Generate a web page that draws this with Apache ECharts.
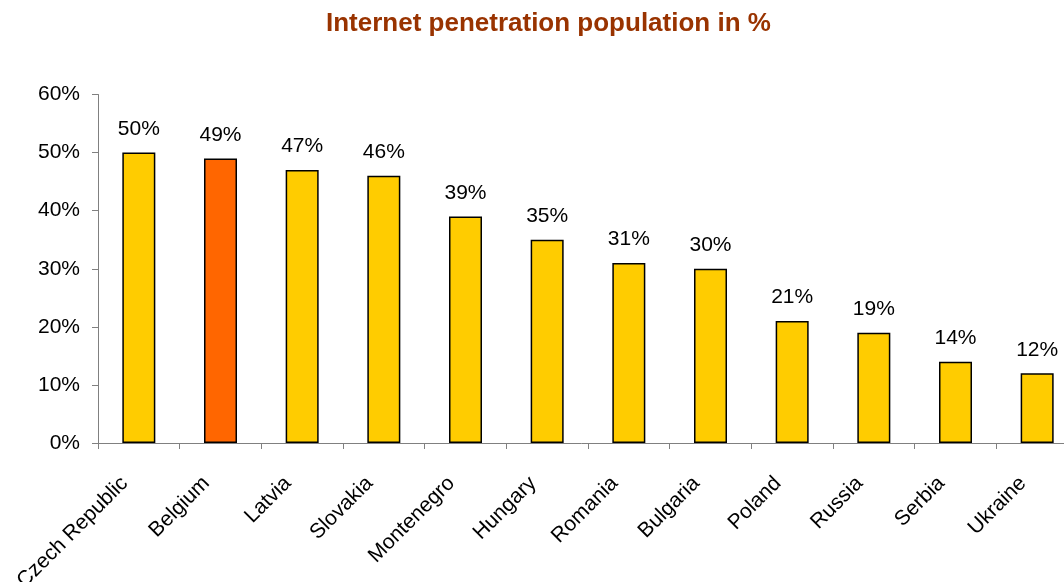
<!DOCTYPE html>
<html>
<head>
<meta charset="utf-8">
<script src="https://cdn.jsdelivr.net/npm/echarts@6/dist/echarts.min.js"></script>
<style>
  html, body { margin: 0; padding: 0; background: #fff; }
  #chart { width: 1064px; height: 582px; }
</style>
</head>
<body>
<div id="chart"></div>
<script>
// 数据
var countries = ["Czech Republic", "Belgium", "Latvia", "Slovakia", "Montenegro", "Hungary",
  "Romania", "Bulgaria", "Poland", "Russia", "Serbia", "Ukraine"];
var penetration = [50, 49, 47, 46, 39, 35, 31, 30, 21, 19, 14, 12];
var highlight = "Belgium";
var yTicks = [0, 10, 20, 30, 40, 50, 60];

var myChart = echarts.init(document.getElementById("chart"));

var option = {
  animation: false,
  textStyle: { fontFamily: "Liberation Sans, Arial, sans-serif" },
  title: {
    text: "Internet penetration population in %",
    left: 321,
    top: 6,
    textStyle: { color: "#993300", fontSize: 26, fontWeight: "bold", fontFamily: "Liberation Sans, Arial, sans-serif" }
  },
  grid: {
    left: 98,
    top: 94.5,
    bottom: 139,
    width: 980,
    outerBoundsMode: "none"
  },
  xAxis: {
    type: "category",
    data: countries,
    axisLine: { lineStyle: { color: "#808080", width: 1 } },
    axisTick: { show: true, length: 6, lineStyle: { color: "#808080" } },
    axisLabel: {
      rotate: 45,
      interval: 0,
      margin: 23,
      padding: [0, 20, 0, 0],
      color: "#000",
      fontSize: 21
    }
  },
  yAxis: {
    type: "value",
    min: yTicks[0],
    max: yTicks[yTicks.length - 1],
    interval: 10,
    splitLine: { show: false },
    axisLine: { show: true, lineStyle: { color: "#808080", width: 1 } },
    axisTick: { show: true, length: 6, lineStyle: { color: "#808080" } },
    axisLabel: {
      formatter: "{value}%",
      color: "#000",
      fontSize: 21,
      margin: 18
    }
  },
  series: [
    {
      type: "bar",
      barWidth: 33,
      data: penetration.map(function (v, i) {
        return {
          value: v,
          itemStyle: { color: countries[i] === highlight ? "#FF6600" : "#FFCC00" }
        };
      }),
      itemStyle: { borderColor: "#000", borderWidth: 1.5 },
      label: {
        show: true,
        position: "top",
        distance: 13,
        formatter: "{c}%",
        color: "#000",
        fontSize: 21
      }
    }
  ]
};
myChart.setOption(option);
</script>
</body>
</html>
